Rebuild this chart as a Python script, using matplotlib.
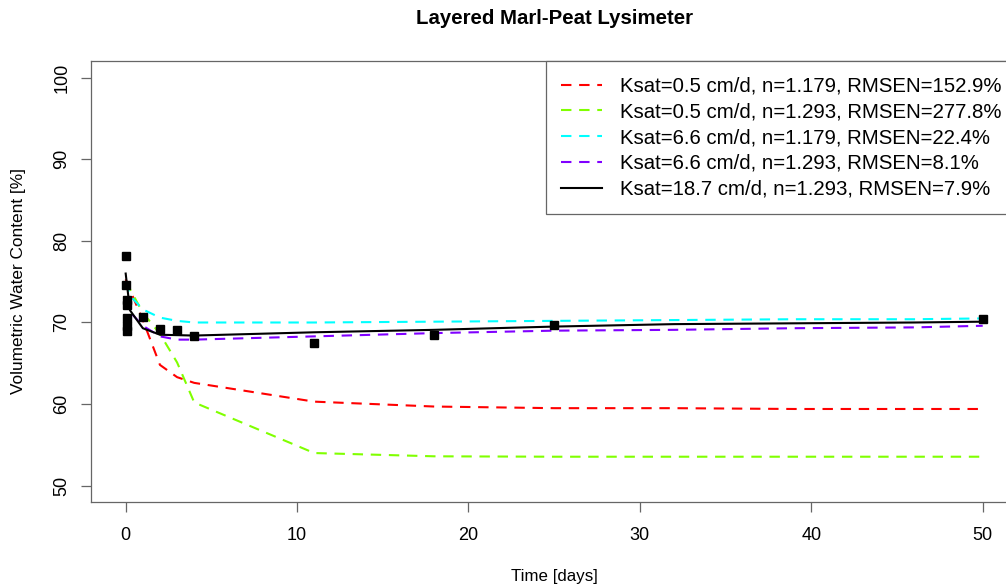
import matplotlib
matplotlib.use("Agg")
import matplotlib.pyplot as plt

plt.rcParams['font.family'] = ['Liberation Sans', 'DejaVu Sans']

# observed water content (black squares)
obs_days = [0, 0, 0.05, 0.05, 0.1, 0.1, 0.1, 1, 2, 3, 4, 11, 18, 25, 50]
obs_vwc = [78.1, 74.6, 72.7, 72.1, 70.6, 69.6, 69.0, 70.7, 69.2, 69.1, 68.4, 67.5, 68.5, 69.7, 70.4]

# simulated runs
sim_days = [0, 0.25, 1, 2, 3, 4, 11, 18, 25, 32, 39, 46, 50]
run_k05_n1179 = [75.3, 74.0, 70.3, 64.8, 63.3, 62.6, 60.3, 59.7, 59.5, 59.5, 59.4, 59.4, 59.4]
run_k05_n1293 = [75.0, 74.1, 71.2, 68.6, 65.1, 60.2, 54.0, 53.6, 53.55, 53.55, 53.55, 53.55, 53.55]
run_k66_n1179 = [75.0, 73.3, 71.6, 70.6, 70.2, 70.0, 70.0, 70.1, 70.2, 70.3, 70.4, 70.4, 70.5]
run_k66_n1293 = [73.0, 71.3, 69.6, 68.3, 67.9, 67.9, 68.3, 68.7, 69.0, 69.1, 69.3, 69.4, 69.6]
run_k187_n1293 = [76.0, 71.5, 69.3, 68.5, 68.45, 68.4, 68.8, 69.1, 69.5, 69.8, 69.9, 70.0, 70.1]

labels = [
    "Ksat=0.5 cm/d, n=1.179, RMSEN=152.9%",
    "Ksat=0.5 cm/d, n=1.293, RMSEN=277.8%",
    "Ksat=6.6 cm/d, n=1.179, RMSEN=22.4%",
    "Ksat=6.6 cm/d, n=1.293, RMSEN=8.1%",
    "Ksat=18.7 cm/d, n=1.293, RMSEN=7.9%",
]

W, H = 1006, 587
fig = plt.figure(figsize=(W / 100, H / 100), dpi=100)
ax = fig.add_axes([91.4 / W, 1 - 502 / H, (1017 - 91.4) / W, (502 - 61.4) / H])

dash = (5, 3.7)
ax.plot(sim_days, run_k05_n1179, color='#FF0000', lw=1.5, dashes=dash, label=labels[0])
ax.plot(sim_days, run_k05_n1293, color='#80FF00', lw=1.5, dashes=dash, label=labels[1])
ax.plot(sim_days, run_k66_n1179, color='#00FFFF', lw=1.5, dashes=dash, label=labels[2])
ax.plot(sim_days, run_k66_n1293, color='#8000FF', lw=1.5, dashes=dash, label=labels[3])
ax.plot(sim_days, run_k187_n1293, color='black', lw=1.5, label=labels[4])
ax.plot(obs_days, obs_vwc, 's', color='black', ms=5.8, zorder=5)

ax.set_xlim(-2, 52)
ax.set_ylim(48, 102)
ax.set_xticks([0, 10, 20, 30, 40, 50])
ax.set_yticks([50, 60, 70, 80, 90, 100])
for s in ax.spines.values():
    s.set_color('#666666')
    s.set_linewidth(0.9)
ax.tick_params(axis='both', length=7.2, width=0.9, color='#666666', labelsize=13)
ax.tick_params(axis='x', pad=10.5)
ax.tick_params(axis='y', pad=8, labelrotation=90)
for t in ax.get_yticklabels():
    t.set_va('center')

leg = ax.legend(loc='upper right', bbox_to_anchor=(1, 1), borderaxespad=0,
                fontsize=14.7, fancybox=False, edgecolor='#666666', framealpha=1,
                handlelength=2.0, handletextpad=0.9, borderpad=0.75, labelspacing=0.33)
leg.get_frame().set_linewidth(0.9)

fig.text(554 / W, 1 - 18 / H, "Layered Marl-Peat Lysimeter", ha='center', va='center',
         fontsize=14.7, fontweight='bold')
fig.text(554 / W, 1 - 577 / H, "Time [days]", ha='center', va='center', fontsize=12.2)
fig.text(19 / W, 1 - 281 / H, "Volumetric Water Content [%]", ha='center', va='center',
         rotation=90, fontsize=12.4)

fig.savefig("out.png", dpi=100)
